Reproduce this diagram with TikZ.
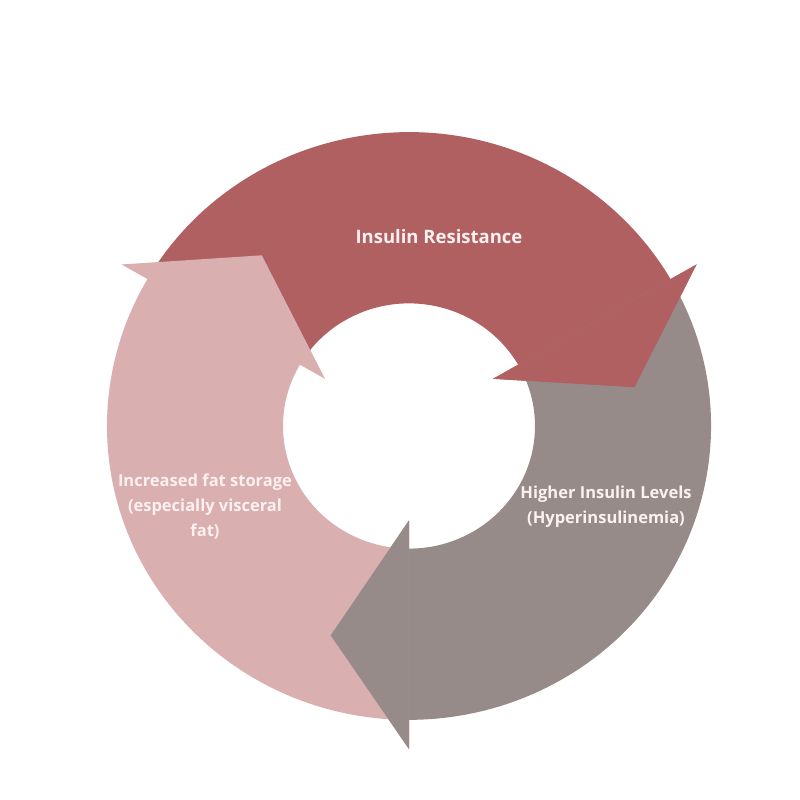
\documentclass[tikz,border=0pt]{standalone}
\usepackage{fontspec}
\setmainfont{Open Sans}
\usepackage{xcolor}
\usepackage{tikz}
\definecolor{resistred}{HTML}{B06060}
\definecolor{levelgray}{HTML}{978B89}
\definecolor{storepink}{HTML}{D9AFB0}
\definecolor{textwhite}{HTML}{FDF0F0}

\begin{document}
\begin{tikzpicture}[x=1pt, y=1pt,
    cycletext/.style={text=textwhite, font=\bfseries\fontsize{16.5}{25}\selectfont, align=center}]
    \useasboundingbox (-409,-374) rectangle (391,426);
    \begin{scope}[yscale=0.973]
      % ring bodies with their heads
      \fill[resistred] (150:302) arc[start angle=150, end angle=30, radius=302]
        -- (30:332) -- (10:229) -- (30:97)
        -- (30:126) arc[start angle=30, end angle=150, radius=126] -- cycle;
      \fill[levelgray] (30:302) arc[start angle=30, end angle=-90, radius=302]
        -- (-90:332) -- (-110:229) -- (-90:97)
        -- (-90:126) arc[start angle=-90, end angle=30, radius=126] -- cycle;
      \fill[storepink] (270:302) arc[start angle=270, end angle=150, radius=302]
        -- (150:332) -- (130:229) -- (150:97)
        -- (150:126) arc[start angle=150, end angle=270, radius=126] -- cycle;
      % heads again on top
      \fill[resistred] (30:332) -- (10:229) -- (30:97) -- cycle;
      \fill[levelgray] (-90:332) -- (-110:229) -- (-90:97) -- cycle;
    \end{scope}
    \node[cycletext, font=\bfseries\fontsize{18.5}{25}\selectfont] (resist) at (30,189) {Insulin Resistance};
    \node[cycletext] (levels) at (197,-81) {Higher Insulin Levels\\(Hyperinsulinemia)};
    \node[cycletext] (storage) at (-204,-80) {Increased fat storage\\(especially visceral\\fat)};
\end{tikzpicture}
\end{document}
